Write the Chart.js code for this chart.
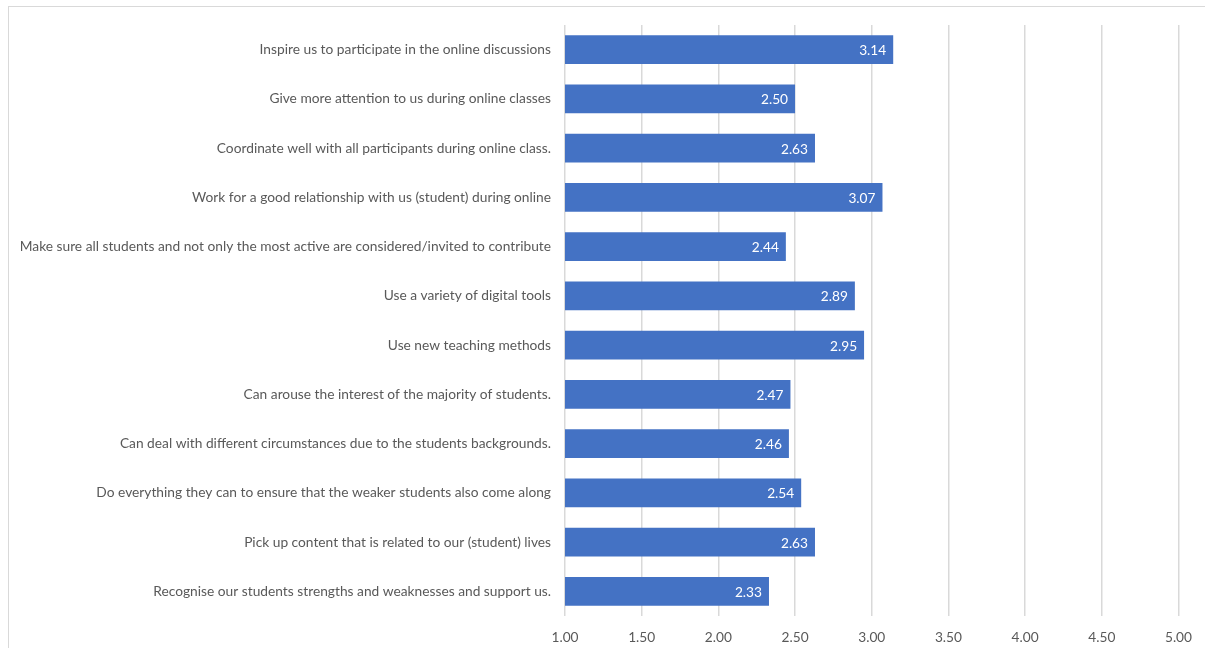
<!DOCTYPE html>
<html>
<head>
<meta charset="utf-8">
<script src="https://cdn.jsdelivr.net/npm/chart.js@4.4.0/dist/chart.umd.min.js"></script>
<style>
html,body{margin:0;padding:0;background:#fff;}
#wrap{position:relative;width:1205px;height:648px;}
</style>
</head>
<body>
<div id="wrap"><canvas id="c" width="1205" height="648"></canvas></div>
<script>
const categories = [
  "Inspire us to participate in the online discussions",
  "Give more attention to us during online classes",
  "Coordinate well with all participants during online class.",
  "Work for a good relationship with us (student) during online",
  "Make sure all students and not only the most active are considered/invited to contribute",
  "Use a variety of digital tools",
  "Use new teaching methods",
  "Can arouse the interest of the majority of students.",
  "Can deal with different circumstances due to the students backgrounds.",
  "Do everything they can to ensure that the weaker students also come along",
  "Pick up content that is related to our (student) lives",
  "Recognise our students strengths and weaknesses and support us."
];
const values = [3.14, 2.50, 2.63, 3.07, 2.44, 2.89, 2.95, 2.47, 2.46, 2.54, 2.63, 2.33];
const xTicks = [1.00, 1.50, 2.00, 2.50, 3.00, 3.50, 4.00, 4.50, 5.00];

const FONT = "Lato";
const frame = {
  id: 'frame',
  beforeDraw(chart) {
    const ctx = chart.ctx;
    ctx.save();
    ctx.fillStyle = '#fff';
    ctx.fillRect(0, 0, chart.width, chart.height);
    ctx.strokeStyle = '#d9d9d9';
    ctx.lineWidth = 1;
    ctx.strokeRect(8.5, 6.5, 1400, 800);
    ctx.restore();
  }
};
const dataLabels = {
  id: 'dataLabels',
  afterDatasetsDraw(chart) {
    const ctx = chart.ctx;
    const meta = chart.getDatasetMeta(0);
    ctx.save();
    ctx.fillStyle = '#ffffff';
    ctx.font = '13.7px ' + FONT;
    ctx.textAlign = 'right';
    ctx.textBaseline = 'middle';
    meta.data.forEach((bar, i) => {
      ctx.fillText(values[i].toFixed(2), bar.x - 7, bar.y + 1);
    });
    ctx.restore();
  }
};

new Chart(document.getElementById('c'), {
  type: 'bar',
  data: {
    labels: categories,
    datasets: [{
      data: values,
      backgroundColor: '#4472C4',
      borderWidth: 0,
      barPercentage: 0.58,
      categoryPercentage: 1.0
    }]
  },
  options: {
    indexAxis: 'y',
    responsive: false,
    animation: false,
    devicePixelRatio: 1,
    layout: { padding: { top: 25, right: 25, left: 0, bottom: 0 } },
    plugins: { legend: { display: false }, tooltip: { enabled: false } },
    scales: {
      x: {
        min: 1, max: 5,
        afterBuildTicks(scale) { scale.ticks = xTicks.map(v => ({ value: v })); },
        afterFit(scale) { scale.height = 32; },
        grid: { color: '#d9d9d9', lineWidth: 1.5, drawTicks: false },
        border: { display: false },
        ticks: {
          padding: 13,
          color: '#595959',
          font: { family: FONT, size: 13.7 },
          callback: v => Number(v).toFixed(2)
        }
      },
      y: {
        afterFit(scale) { scale.width = 565; },
        grid: { display: false, drawTicks: false },
        border: { display: false },
        ticks: {
          padding: 14,
          color: '#595959',
          font: { family: FONT, size: 13.75 }
        }
      }
    }
  },
  plugins: [frame, dataLabels]
});
</script>
</body>
</html>
